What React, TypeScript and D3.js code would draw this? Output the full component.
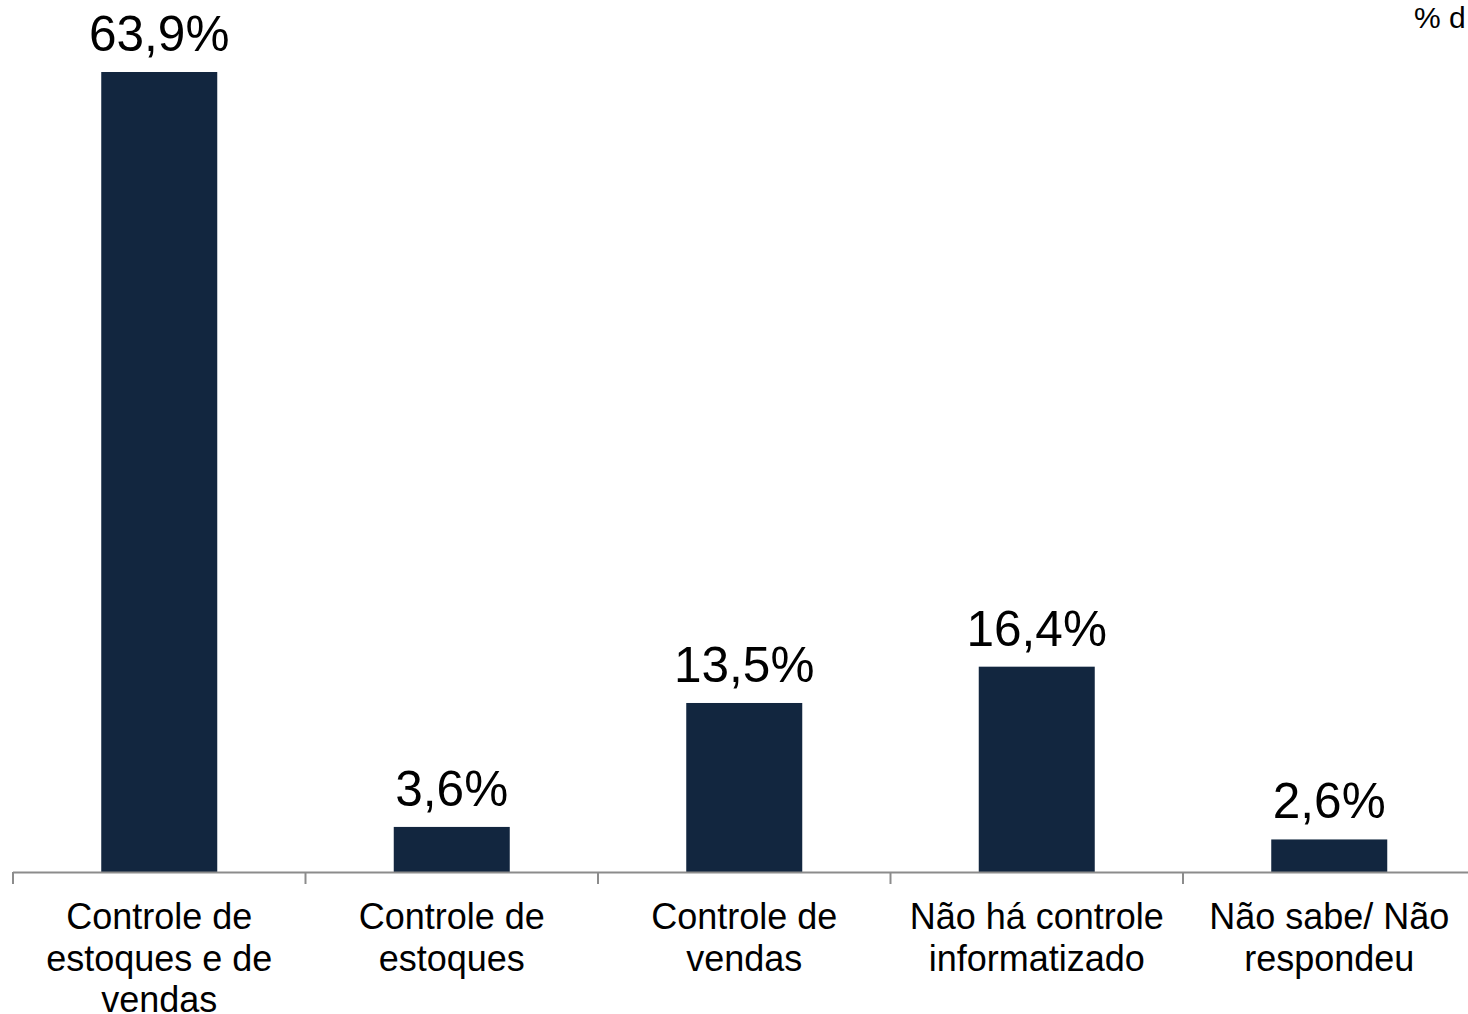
import React from "react";
import * as d3 from "d3";

const categories: string[][] = [
  ["Controle de", "estoques e de", "vendas"],
  ["Controle de", "estoques"],
  ["Controle de", "vendas"],
  ["Não há controle", "informatizado"],
  ["Não sabe/ Não", "respondeu"],
];
const values: number[] = [63.9, 3.6, 13.5, 16.4, 2.6];
const valueLabels: string[] = ["63,9%", "3,6%", "13,5%", "16,4%", "2,6%"];
const unitNote = "% d";

const W = 1468;
const H = 1014;
const FONT = "'Liberation Sans', Arial, sans-serif";

export default function App() {
  const x0 = 13;
  const band = 292.5;
  const x = d3
    .scaleBand<number>()
    .domain(d3.range(6))
    .range([x0, x0 + band * 6])
    .paddingInner(0)
    .paddingOuter(0);
  const baseY = 872;
  const y = d3.scaleLinear().domain([0, 63.9]).range([baseY, 72]);
  const barW = 116;
  const ticks = d3.range(6).map((i) => x0 + i * band);

  return (
    <svg
      width={W}
      height={H}
      style={{ position: "absolute", left: 0, top: 0, background: "#fff" }}
      fontFamily={FONT}
    >
      <text x={1414} y={28} fontSize={30} fill="#000">
        {unitNote}
      </text>
      {values.map((v, i) => {
        const cx = (x(i) as number) + band / 2;
        return (
          <g key={i}>
            <rect
              x={cx - barW / 2}
              y={y(v)}
              width={barW}
              height={baseY - y(v)}
              fill="#12263f"
            />
            <text
              x={cx}
              y={y(v) - 21}
              textAnchor="middle"
              fontSize={49.5}
              fill="#000"
            >
              {valueLabels[i]}
            </text>
            <text textAnchor="middle" fontSize={36} fill="#000">
              {categories[i].map((line, j) => (
                <tspan key={j} x={cx} y={929 + j * 41.5}>
                  {line}
                </tspan>
              ))}
            </text>
          </g>
        );
      })}
      <line
        x1={x0}
        x2={W + 20}
        y1={baseY + 0.5}
        y2={baseY + 0.5}
        stroke="#8c8c8c"
        strokeWidth={2}
      />
      {ticks.map((t, i) => (
        <line
          key={i}
          x1={t}
          x2={t}
          y1={baseY}
          y2={baseY + 12}
          stroke="#8c8c8c"
          strokeWidth={2}
        />
      ))}
    </svg>
  );
}
